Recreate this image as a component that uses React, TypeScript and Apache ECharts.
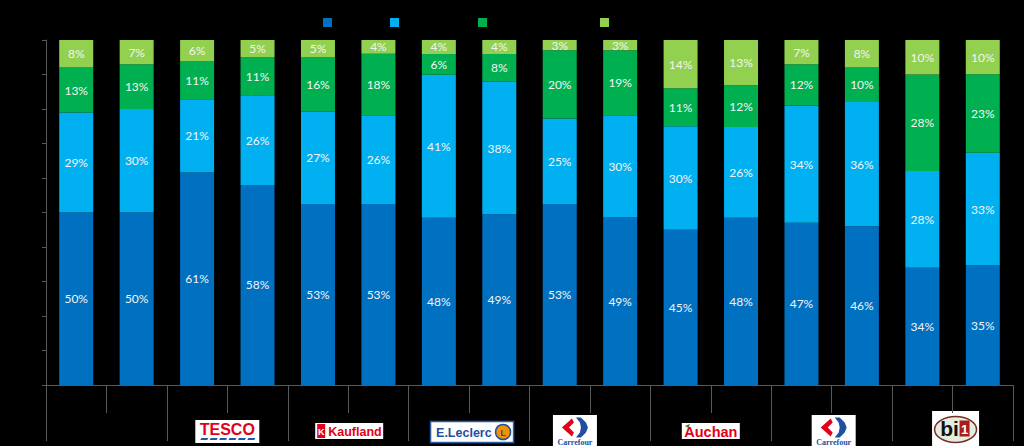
import React, { useEffect, useRef } from 'react';
import * as echarts from 'echarts';

const groups = ['Total', 'Tesco', 'Kaufland', 'E.Leclerc', 'Carrefour', 'Auchan', 'Carrefour Market', 'bi1'];
const waves = ['A', 'B'];
const categories = groups.flatMap((g) => waves.map((w) => `${g} ${w}`));
const seriesNames = ['Series 1', 'Series 2', 'Series 3', 'Series 4'];
const s1 = [50, 50, 61, 58, 53, 53, 48, 49, 53, 49, 45, 48, 47, 46, 34, 35];
const s2 = [29, 30, 21, 26, 27, 26, 41, 38, 25, 30, 30, 26, 34, 36, 28, 33];
const s3 = [13, 13, 11, 11, 16, 18, 6, 8, 20, 19, 11, 12, 12, 10, 28, 23];
const s4 = [8, 7, 6, 5, 5, 4, 4, 4, 3, 3, 14, 13, 7, 8, 10, 10];
const seriesValues = [s1, s2, s3, s4];
const colors = ['#0070C0', '#00B0F0', '#00B050', '#92D050'];
const legendX = [318, 385, 473, 595];
const axisColor = '#595959';

function txt(text: string, x: number, y: number, size: number, fill: string, extra: any = {}) {
  return {
    type: 'text',
    style: {
      text, x, y, fill,
      fontSize: size,
      fontWeight: 'bold',
      fontFamily: 'Liberation Sans',
      align: 'center', textAlign: 'center',
      verticalAlign: 'middle', textVerticalAlign: 'middle',
      ...extra,
    },
  };
}

function logo(kind: string): any[] {
  switch (kind) {
    case 'Tesco': {
      const dashes = [];
      for (let i = 0; i < 6; i++) {
        const x0 = -27 + i * 9.4;
        dashes.push({ type: 'polygon', shape: { points: [[x0 + 1, 6.5], [x0 + 8, 6.5], [x0 + 7, 8.5], [x0, 8.5]] }, style: { fill: '#1c5aa8' } });
      }
      return [
        { type: 'rect', shape: { x: -32, y: -11.5, width: 64, height: 23 }, style: { fill: '#fff' } },
        txt('TESCO', 0, -2.5, 16, '#e2001a'),
        ...dashes,
      ];
    }
    case 'Kaufland':
      return [
        { type: 'rect', shape: { x: -34, y: -8, width: 68, height: 16 }, style: { fill: '#fff' } },
        { type: 'rect', shape: { x: -32, y: -7, width: 8, height: 14 }, style: { fill: '#e2001a' } },
        txt('K', -28, 0.5, 9, '#fff'),
        txt('Kaufland', -21, 0.5, 12.5, '#e2001a', { align: 'left', textAlign: 'left' }),
      ];
    case 'E.Leclerc':
      return [
        { type: 'rect', shape: { x: -41.5, y: -10.5, width: 83, height: 21 }, style: { fill: '#fff', stroke: '#2b5fa8', lineWidth: 1.5 } },
        txt('E.Leclerc', -36, 0.5, 12.5, '#1e4fa0', { align: 'left', textAlign: 'left' }),
        { type: 'circle', shape: { cx: 31, cy: 0, r: 7.5 }, style: { fill: '#f39200', stroke: '#1e4fa0', lineWidth: 1.5 } },
        txt('L', 31, 0.5, 9, '#1e4fa0'),
      ];
    case 'Carrefour':
      return [
        { type: 'rect', shape: { x: -22, y: -15.5, width: 44, height: 33 }, style: { fill: '#fff' } },
        { type: 'polygon', shape: { points: [[-3, -12], [-13, -3], [-3, 6], [-1, 2], [-6, -3], [-1, -8]] }, style: { fill: '#e2001a' } },
        { type: 'polygon', shape: { points: [[1, -13], [6, -13], [11, -8], [13, -3], [11, 2], [6, 7], [1, 7], [5, 2], [6, -3], [5, -8]] }, style: { fill: '#1e4fa0' } },
        txt('Carrefour', 0, 12, 8, '#1e4fa0', { fontFamily: 'Liberation Serif' }),
      ];
    case 'Auchan':
      return [
        { type: 'rect', shape: { x: -29, y: -8, width: 58, height: 16 }, style: { fill: '#fff' } },
        txt('Auchan', 0, 0.5, 14.5, '#e2001a'),
        { type: 'polygon', shape: { points: [[-26, -5], [-21, -7], [-22, -3]] }, style: { fill: '#2e8b3a' } },
      ];
    case 'bi1':
      return [
        { type: 'rect', shape: { x: -23.5, y: -17.5, width: 47, height: 37 }, style: { fill: '#fff' } },
        { type: 'ellipse', shape: { cx: 0, cy: 1, rx: 21, ry: 13 }, style: { fill: '#e4ecdc', stroke: '#7b2a2a', lineWidth: 1.5 } },
        txt('bi', -6, 0, 21, '#111'),
        { type: 'rect', shape: { x: 4, y: -8, width: 10, height: 16 }, style: { fill: '#a81c1c' } },
        txt('1', 9, 0.5, 13, '#fff'),
      ];
  }
  return [];
}

const logoPlacement: Record<string, { dx: number; y: number }> = {
  Tesco: { dx: 0, y: 431.5 },
  Kaufland: { dx: 1, y: 431 },
  'E.Leclerc': { dx: 3, y: 432 },
  Carrefour: { dx: -15, y: 430.5 },
  Auchan: { dx: 0, y: 431 },
  'Carrefour Market': { dx: 2, y: 430.5 },
  bi1: { dx: 3, y: 428.5 },
};

export default function App() {
  const ref = useRef<HTMLDivElement>(null);
  useEffect(() => {
    if (!ref.current) return;
    const chart = echarts.init(ref.current, undefined, { renderer: 'svg' });
    const sums = categories.map((_, i) => seriesValues.reduce((a, s) => a + s[i], 0));
    const option: any = {
      animation: false,
      backgroundColor: '#000',
      grid: { left: 46, right: 11, top: 40, bottom: 61, containLabel: false },
      legend: seriesNames.map((n, i) => ({
        data: [n],
        left: legendX[i],
        top: 12,
        itemWidth: 9,
        itemHeight: 9,
        icon: 'rect',
        textStyle: { color: '#000', fontSize: 11 },
      })),
      xAxis: [
        {
          type: 'category',
          data: categories,
          position: 'bottom',
          axisLine: { show: true, lineStyle: { color: axisColor, width: 1 } },
          axisTick: { show: true, interval: 0, length: 28, lineStyle: { color: axisColor } },
          axisLabel: { show: false },
          splitLine: { show: false },
        },
        {
          type: 'category',
          data: groups,
          position: 'bottom',
          offset: 0,
          axisLine: { show: false },
          axisTick: { show: true, interval: 0, length: 56, lineStyle: { color: axisColor } },
          axisLabel: { show: false },
          splitLine: { show: false },
        },
      ],
      yAxis: {
        type: 'value',
        min: 0,
        max: 100,
        interval: 10,
        axisLine: { show: true, lineStyle: { color: axisColor } },
        axisTick: { show: true, length: 4, lineStyle: { color: axisColor } },
        axisLabel: { show: false },
        splitLine: { show: false },
      },
      series: seriesNames.map((n, si) => ({
        name: n,
        type: 'bar',
        stack: 'total',
        xAxisIndex: 0,
        barWidth: 34,
        itemStyle: { color: colors[si] },
        label: {
          show: true,
          position: 'inside',
          color: '#f4f4f4',
          fontSize: 12,
          fontFamily: 'Lato',
          formatter: (p: any) => `${seriesValues[si][p.dataIndex]}%`,
        },
        data: seriesValues[si].map((v, i) => (v / sums[i]) * 100),
      })),
    };
    chart.setOption(option);
    const graphics: any[] = [];
    groups.forEach((g) => {
      const place = logoPlacement[g];
      if (!place) return;
      const cx = chart.convertToPixel({ xAxisIndex: 1 } as any, g) as unknown as number;
      const kind = g === 'Carrefour Market' ? 'Carrefour' : g;
      graphics.push({ type: 'group', x: cx + place.dx, y: place.y, children: logo(kind) });
    });
    chart.setOption({ graphic: graphics });
    return () => chart.dispose();
  }, []);
  return (
    <div style={{ position: 'fixed', left: 0, top: 0, width: 1024, height: 446, background: '#000' }}>
      <div ref={ref} style={{ width: 1024, height: 446 }} />
    </div>
  );
}
